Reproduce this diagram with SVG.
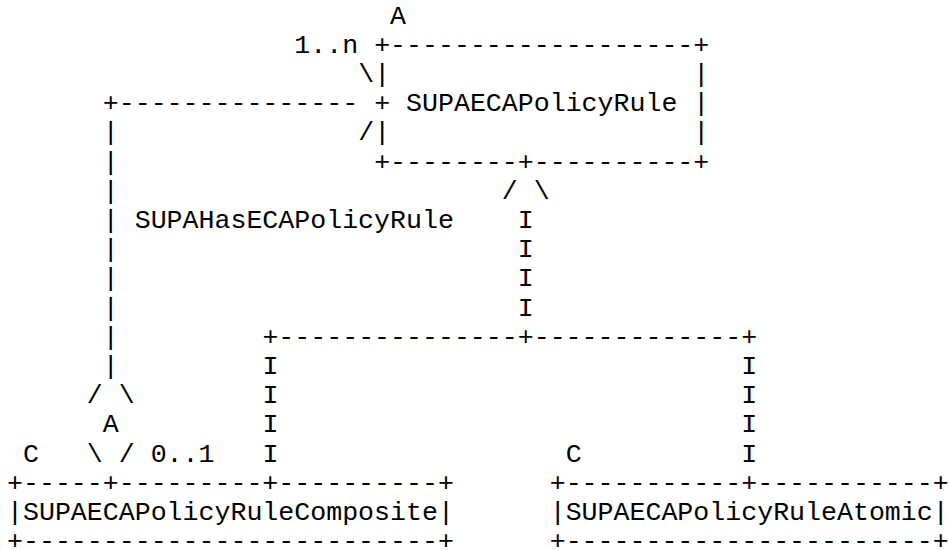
<svg xmlns="http://www.w3.org/2000/svg" width="949" height="550" viewBox="0 0 949 550" xml:space="preserve">
  <style>
    text { font-family: "Liberation Mono", "Courier New", monospace; font-size: 26.6px; fill: #000; white-space: pre; }
  </style>
  <rect x="0" y="0" width="949" height="550" fill="#fff"/>

  <!-- Abstract class SUPAECAPolicyRule -->
  <g id="node-supaecapolicyrule">
    <text x="390.09" y="23.6">A</text>
    <text x="374.13" y="52.8">+-------------------+</text>
    <text x="374.13" y="82.0">|</text>
    <text x="693.37" y="82.0">|</text>
    <text x="374.13" y="111.2">+ SUPAECAPolicyRule |</text>
    <text x="374.13" y="140.4">|</text>
    <text x="693.37" y="140.4">|</text>
    <text x="374.13" y="169.6">+--------+----------+</text>
  </g>

  <!-- Concrete class SUPAECAPolicyRuleComposite -->
  <g id="node-supaecapolicyrulecomposite">
    <text x="22.96" y="461.6">C</text>
    <text x="7" y="490.8">+-----+---------+----------+</text>
    <text x="7" y="520.0">|SUPAECAPolicyRuleComposite|</text>
    <text x="7" y="549.2">+--------------------------+</text>
  </g>

  <!-- Concrete class SUPAECAPolicyRuleAtomic -->
  <g id="node-supaecapolicyruleatomic">
    <text x="565.67" y="461.6">C</text>
    <text x="549.71" y="490.8">+-----------+-----------+</text>
    <text x="549.71" y="520.0">|SUPAECAPolicyRuleAtomic|</text>
    <text x="549.71" y="549.2">+-----------------------+</text>
  </g>

  <g id="connectors">
    <!-- SUPAHasECAPolicyRule aggregation -->
    <g id="edge-supahasecapolicyrule">
      <text x="294.32" y="52.8">1..n</text>
      <text x="358.16" y="82.0">\</text>
      <text x="102.77" y="111.2">+---------------</text>
      <text x="358.16" y="140.4">/</text>
      <text><tspan x="102.77" y="140.4">|</tspan><tspan x="102.77" y="169.6">|</tspan><tspan x="102.77" y="198.8">|</tspan><tspan x="102.77" y="228.0">|</tspan><tspan x="102.77" y="257.2">|</tspan><tspan x="102.77" y="286.4">|</tspan><tspan x="102.77" y="315.6">|</tspan><tspan x="102.77" y="344.8">|</tspan><tspan x="102.77" y="374.0">|</tspan></text>
      <text x="134.70" y="228.0">SUPAHasECAPolicyRule</text>
      <text x="86.81" y="403.2">/ \</text>
      <text x="102.77" y="432.4">A</text>
      <text x="86.81" y="461.6">\ /</text>
      <text x="150.66" y="461.6">0..1</text>
    </g>

    <!-- Inheritance from SUPAECAPolicyRule -->
    <g id="edge-inheritance">
      <text x="501.82" y="198.8">/ \</text>
      <text><tspan x="517.78" y="228.0">I</tspan><tspan x="517.78" y="257.2">I</tspan><tspan x="517.78" y="286.4">I</tspan><tspan x="517.78" y="315.6">I</tspan></text>
      <text x="262.39" y="344.8">+---------------+-------------+</text>
      <text><tspan x="262.39" y="374.0">I</tspan><tspan x="262.39" y="403.2">I</tspan><tspan x="262.39" y="432.4">I</tspan><tspan x="262.39" y="461.6">I</tspan></text>
      <text><tspan x="741.25" y="374.0">I</tspan><tspan x="741.25" y="403.2">I</tspan><tspan x="741.25" y="432.4">I</tspan><tspan x="741.25" y="461.6">I</tspan></text>
    </g>
  </g>
</svg>
